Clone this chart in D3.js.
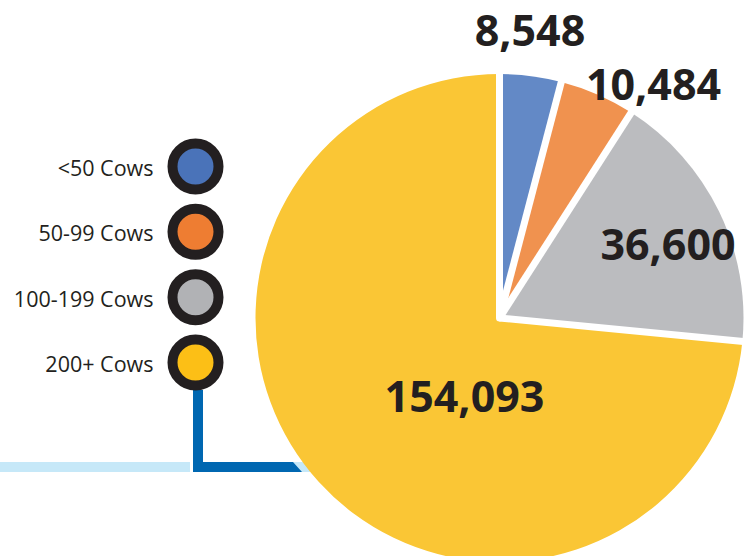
<!DOCTYPE html>
<html>
<head>
<meta charset="utf-8">
<script src="https://cdn.jsdelivr.net/npm/d3@7"></script>
<style>
  html, body { margin: 0; padding: 0; background: #ffffff; }
  svg { display: block; }
</style>
</head>
<body>
<svg id="chart" width="754" height="556"></svg>
<script>
// Herd-size groups and number of cows in each
const categories = ["<50 Cows", "50-99 Cows", "100-199 Cows", "200+ Cows"];
const cowCounts = [8548, 10484, 36600, 154093];
const sliceColors = ["#6389c6", "#f0924f", "#bbbcbf", "#fac635"];
const legendColors = ["#4a73b9", "#ee7d32", "#b1b2b5", "#fcbf16"];

const W = 754, H = 556;
const cx = 499.5, cy = 318, R = 244;
const gap = 7;               // white separator width between slices
const ink = "#231f20";

// Label anchor offsets from the pie centre (text is centred on them)
const labelOffsets = [[30.5, -272], [154, -218], [168.5, -58], [-35, 94]];

const svg = d3.select("#chart");

// --- connector lines behind the pie ---
const lines = svg.append("g");
lines.append("rect").attr("x", 0).attr("y", 462).attr("width", 190).attr("height", 10)
  .attr("fill", "#c6e8f8");
lines.append("rect").attr("x", 193).attr("y", 462).attr("width", 117).attr("height", 10)
  .attr("fill", "#c6e8f8");
lines.append("path")
  .attr("d", "M193,390 L203,390 L203,462 L293,462 L302,472 L193,472 Z")
  .attr("fill", "#0067b1");

// --- pie ---
const pie = d3.pie().sort(null).value(d => d).startAngle(0).endAngle(2 * Math.PI);
const arcs = pie(cowCounts);
const arc = d3.arc().innerRadius(0).outerRadius(R);

const g = svg.append("g").attr("transform", `translate(${cx},${cy})`);
g.selectAll("path.slice")
  .data(arcs)
  .join("path")
  .attr("class", "slice")
  .attr("d", arc)
  .attr("fill", (d, i) => sliceColors[i]);

// white radial separators at each slice boundary
g.selectAll("line.sep")
  .data(arcs)
  .join("line")
  .attr("class", "sep")
  .attr("x1", 0).attr("y1", 0)
  .attr("x2", d => Math.sin(d.startAngle) * (R + 1))
  .attr("y2", d => -Math.cos(d.startAngle) * (R + 1))
  .attr("stroke", "#ffffff")
  .attr("stroke-width", gap)
  .attr("stroke-linecap", "butt");
g.append("circle").attr("r", gap / 2).attr("fill", "#ffffff");

// value labels
const fmt = d3.format(",");
svg.append("g").selectAll("text")
  .data(arcs)
  .join("text")
  .attr("x", (d, i) => cx + labelOffsets[i][0])
  .attr("y", (d, i) => cy + labelOffsets[i][1])
  .attr("text-anchor", "middle")
  .attr("font-family", "'Open Sans', sans-serif")
  .attr("font-weight", 700)
  .attr("font-size", 43)
  .attr("fill", ink)
  .text(d => fmt(d.data));

// --- legend ---
const legendY = d3.scalePoint().domain(categories).range([166.5, 362.5]);
const leg = svg.append("g");
const items = leg.selectAll("g").data(categories).join("g")
  .attr("transform", d => `translate(195.5,${legendY(d)})`);
items.append("circle")
  .attr("r", 23)
  .attr("fill", (d, i) => legendColors[i])
  .attr("stroke", ink)
  .attr("stroke-width", 10);
items.append("text")
  .attr("x", -42)
  .attr("y", 9.5)
  .attr("text-anchor", "end")
  .attr("font-family", "'Open Sans', sans-serif")
  .attr("font-size", 21.5)
  .attr("fill", ink)
  .text(d => d);
</script>
</body>
</html>
